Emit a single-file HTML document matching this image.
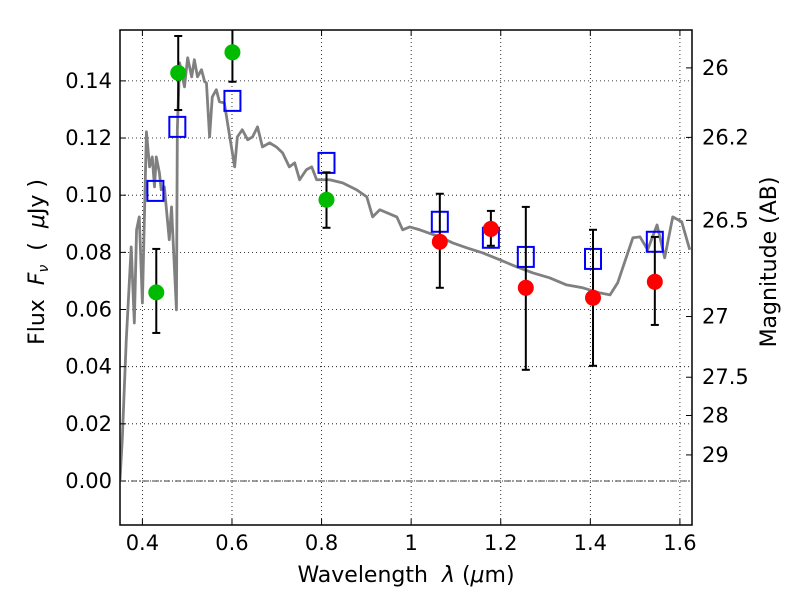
<!DOCTYPE html>
<html><head><meta charset="utf-8"><style>
body{margin:0;background:#fff}
svg text{font-family:"DejaVu Sans","Liberation Sans",sans-serif;fill:#000}
</style></head><body>
<svg id="chart" width="800" height="600" xmlns="http://www.w3.org/2000/svg"></svg>
<script>
const xTicks=[0.4,0.6,0.8,1,1.2,1.4,1.6];
const xTickLabels=["0.4","0.6","0.8","1","1.2","1.4","1.6"];
const yTicks=[0,0.02,0.04,0.06,0.08,0.10,0.12,0.14];
const yTickLabels=["0.00","0.02","0.04","0.06","0.08","0.10","0.12","0.14"];
const magTicks=[26,26.2,26.5,27,27.5,28,29];
const magTickLabels=["26","26.2","26.5","27","27.5","28","29"];
const specWave=[0.35,0.355,0.364,0.375,0.382,0.387,0.393,0.400,0.409,0.416,0.422,0.427,0.431,0.438,0.442,0.449,0.460,0.465,0.476,0.478,0.483,0.494,0.501,0.510,0.516,0.523,0.532,0.539,0.543,0.550,0.556,0.565,0.572,0.583,0.590,0.606,0.612,0.623,0.635,0.646,0.657,0.668,0.684,0.699,0.713,0.728,0.740,0.751,0.766,0.778,0.789,0.818,0.847,0.878,0.901,0.914,0.930,0.968,0.981,0.997,1.019,1.064,1.093,1.124,1.160,1.198,1.236,1.272,1.309,1.347,1.383,1.421,1.444,1.461,1.495,1.511,1.528,1.549,1.566,1.584,1.604,1.622];
const specFlux=[0.0004,0.0144,0.0494,0.0819,0.0553,0.0879,0.0924,0.0623,0.1222,0.1099,0.1134,0.1029,0.1134,0.1078,0.1019,0.1029,0.0844,0.0959,0.0599,0.1229,0.1463,0.1379,0.1481,0.1414,0.1474,0.1414,0.1439,0.1397,0.1393,0.1204,0.1344,0.1369,0.1327,0.1323,0.1253,0.1099,0.1204,0.1229,0.1194,0.1204,0.1239,0.1169,0.1183,0.1169,0.1148,0.1099,0.1113,0.1054,0.1089,0.1099,0.1054,0.1054,0.1043,0.1019,0.0994,0.0924,0.0949,0.0924,0.0879,0.0889,0.0879,0.0854,0.0833,0.0816,0.0798,0.0774,0.0749,0.0728,0.0711,0.0686,0.0676,0.0658,0.0651,0.0693,0.0851,0.0854,0.0809,0.0896,0.0781,0.0924,0.0907,0.0809];
const greenWave=[0.431,0.480,0.601,0.811];
const greenFlux=[0.066,0.1428,0.150,0.0984];
const greenHi=[0.0812,0.1557,0.162,0.108];
const greenLo=[0.0518,0.1298,0.1397,0.0886];
const redWave=[1.064,1.178,1.256,1.406,1.544];
const redFlux=[0.0837,0.0882,0.0676,0.0641,0.0697];
const redHi=[0.1005,0.0945,0.0959,0.0879,0.0854];
const redLo=[0.0676,0.0823,0.0389,0.0403,0.0546];
const modelWave=[0.429,0.478,0.601,0.811,1.064,1.178,1.256,1.406,1.544];
const modelFlux=[0.1015,0.1239,0.133,0.1113,0.0907,0.0851,0.0784,0.0777,0.0837];

const L=120,R=692,T=30,B=525;
const X0=0.35,X1=1.627,Y0=-0.0154,Y1=0.1578;
const sx=v=>L+(v-X0)/(X1-X0)*(R-L);
const sy=v=>B-(v-Y0)/(Y1-Y0)*(B-T);
const magToFlux=m=>Math.pow(10,(23.9-m)/2.5);
const svg=document.getElementById('chart');
const NS="http://www.w3.org/2000/svg";
function mk(tag,attrs,parent){const e=document.createElementNS(NS,tag);for(const k in attrs)e.setAttribute(k,attrs[k]);(parent||svg).appendChild(e);return e;}

const grid=mk('g',{});


xTicks.forEach(v=>{mk('line',{x1:sx(v),x2:sx(v),y1:T,y2:B,stroke:'#000','stroke-width':0.8,'stroke-dasharray':'1,3'},grid);});
yTicks.forEach(v=>{mk('line',{x1:L,x2:R,y1:sy(v),y2:sy(v),stroke:'#000','stroke-width':0.8,'stroke-dasharray':'1,3'},grid);});
const zl=mk('line',{x1:L,x2:R,y1:sy(0),y2:sy(0),stroke:'#000','stroke-width':0.8,'stroke-dasharray':'6,2,1,2'});



const clip=mk('clipPath',{id:'pc'});mk('rect',{x:L,y:T,width:R-L,height:B-T},clip);
const spec=mk('polyline',{points:specWave.map((w,i)=>sx(w)+','+sy(specFlux[i])).join(' '),fill:'none',stroke:'#808080','stroke-width':2.8,'clip-path':'url(#pc)','stroke-linejoin':'round'});



modelWave.forEach((w,i)=>{
  const r=mk('rect',{x:sx(w)-8,y:sy(modelFlux[i])-10,width:16,height:20,fill:'none',stroke:'#0000ff','stroke-width':2});
  
  
});
function errs(wa,hi,lo,name){
  wa.forEach((w,i)=>{
    const g=mk('g',{'clip-path':'url(#pc)'});
    
    
    const x=sx(w);
    mk('line',{x1:x,x2:x,y1:sy(hi[i]),y2:sy(lo[i]),stroke:'#000','stroke-width':2},g);
    mk('line',{x1:x-4,x2:x+4,y1:sy(hi[i]),y2:sy(hi[i]),stroke:'#000','stroke-width':2},g);
    mk('line',{x1:x-4,x2:x+4,y1:sy(lo[i]),y2:sy(lo[i]),stroke:'#000','stroke-width':2},g);
  });
}
errs(greenWave,greenHi,greenLo,'green-errorbar');
errs(redWave,redHi,redLo,'red-errorbar');
greenWave.forEach((w,i)=>{
  const c=mk('circle',{cx:sx(w),cy:sy(greenFlux[i]),r:8,fill:'#00bb00'});
  
  
});
redWave.forEach((w,i)=>{
  const c=mk('circle',{cx:sx(w),cy:sy(redFlux[i]),r:8,fill:'#ff0000'});
  
  
});

const frame=mk('rect',{x:L,y:T,width:R-L,height:B-T,fill:'none',stroke:'#000','stroke-width':1.5});



const xa=mk('g',{});


xTicks.forEach((v,i)=>{
  mk('line',{x1:sx(v),x2:sx(v),y1:B,y2:B-6,stroke:'#000'},xa);
  mk('line',{x1:sx(v),x2:sx(v),y1:T,y2:T+6,stroke:'#000'},xa);
  const t=mk('text',{x:sx(v),y:B+25,'text-anchor':'middle','font-size':21},xa);t.textContent=xTickLabels[i];
});
const ya=mk('g',{});


yTicks.forEach((v,i)=>{
  mk('line',{x1:L,x2:L+6,y1:sy(v),y2:sy(v),stroke:'#000'},ya);
  const t=mk('text',{x:L-8,y:sy(v)+7,'text-anchor':'end','font-size':21},ya);t.textContent=yTickLabels[i];
});
const ma=mk('g',{});


magTicks.forEach((m,i)=>{
  const y=sy(magToFlux(m));
  mk('line',{x1:R,x2:R-6,y1:y,y2:y,stroke:'#000'},ma);
  const t=mk('text',{x:R+10,y:y+7,'font-size':21},ma);t.textContent=magTickLabels[i];
});
</script>
<svg width="800" height="600" style="position:absolute;left:0;top:0" xmlns="http://www.w3.org/2000/svg">
<text x="406" y="582" text-anchor="middle" font-size="22" xml:space="preserve">Wavelength  <tspan font-style="italic">λ</tspan> (<tspan font-style="italic">μ</tspan>m)</text>
<text transform="translate(44,262) rotate(-90)" text-anchor="middle" font-size="22" xml:space="preserve">Flux  <tspan font-style="italic">F</tspan><tspan font-style="italic" font-size="14" dy="4">ν</tspan><tspan dy="-4">  (  </tspan><tspan font-style="italic">μ</tspan>Jy )</text>
<text transform="translate(776,262) rotate(-90)" text-anchor="middle" font-size="22">Magnitude (AB)</text>
</svg>
</body></html>
